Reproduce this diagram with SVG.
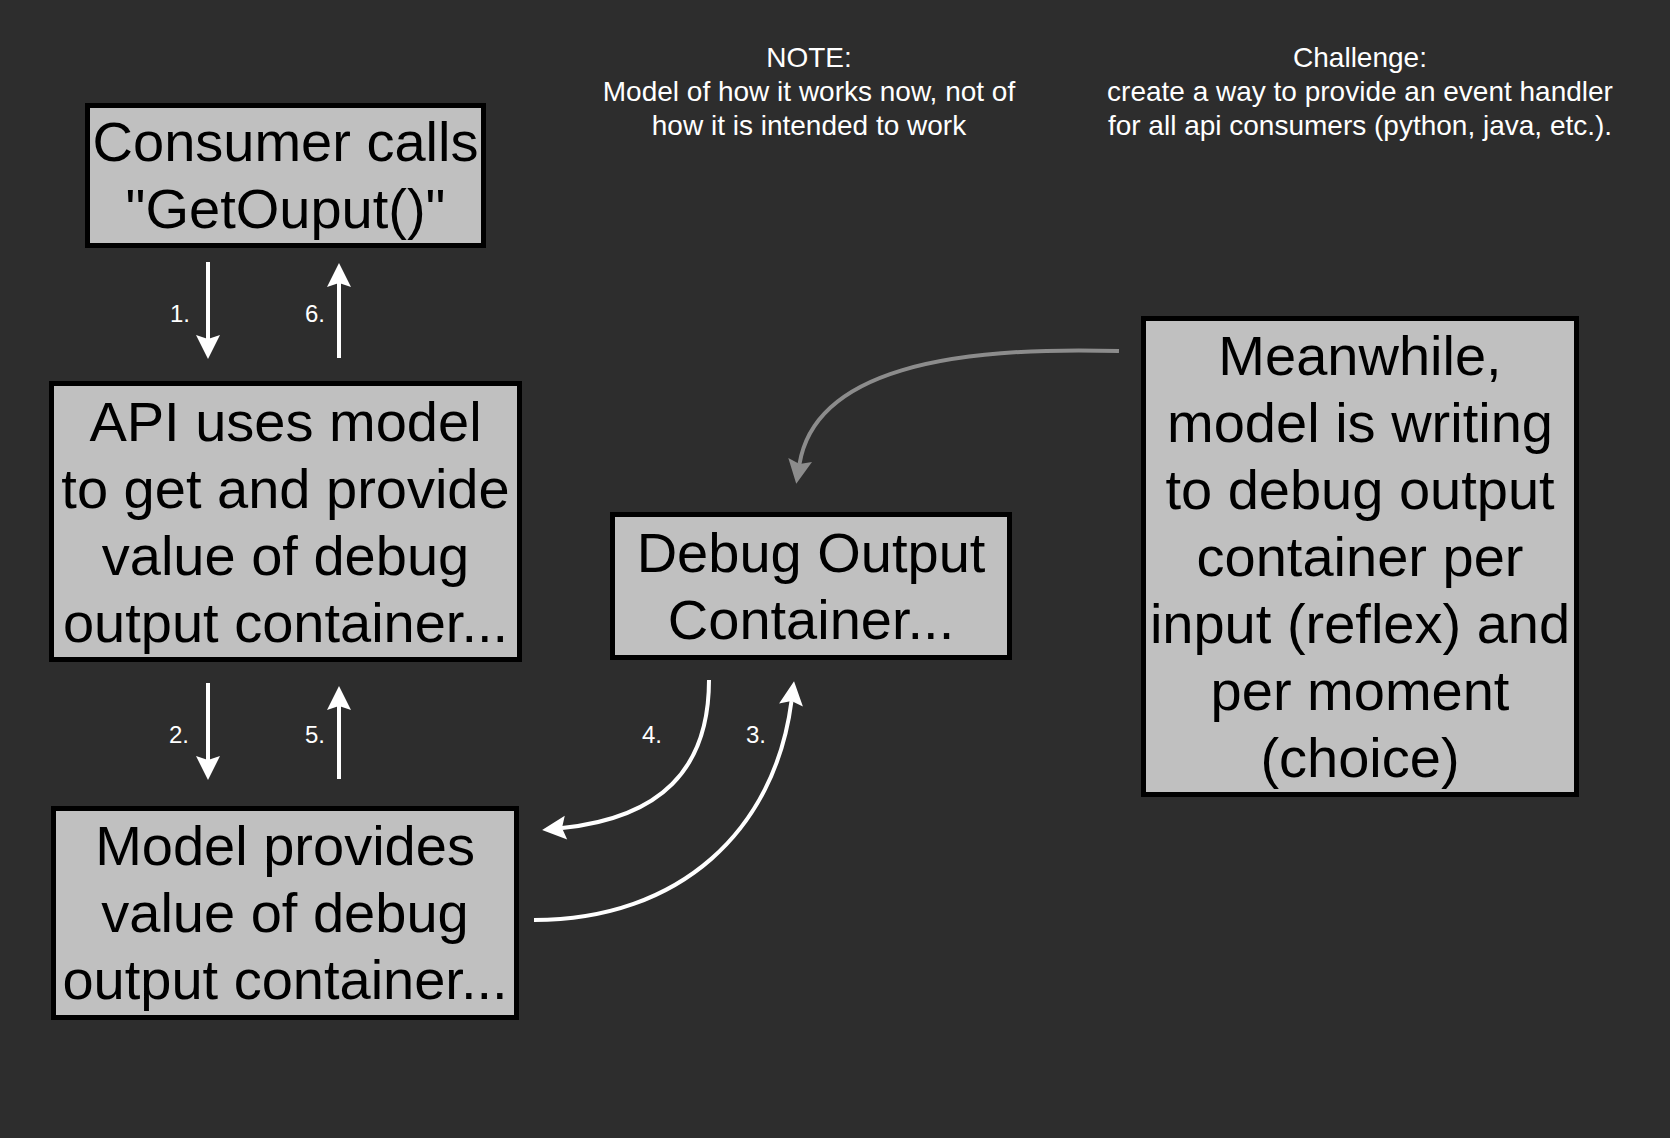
<svg xmlns="http://www.w3.org/2000/svg" width="1670" height="1138" viewBox="0 0 1670 1138">
<style>
.box{fill:#c0c0c0;stroke:#000;stroke-width:5}
.big{font-family:"Liberation Sans",Arial,Helvetica,sans-serif;font-size:56px;fill:#000;text-anchor:middle}
.note{font-family:"Liberation Sans",Arial,Helvetica,sans-serif;font-size:28px;fill:#fff;text-anchor:middle}
.num{font-family:"Liberation Sans",Arial,Helvetica,sans-serif;font-size:24px;fill:#fff}
.w{fill:none;stroke:#fff;stroke-width:4}
.g{fill:none;stroke:#8c8c8c;stroke-width:4}
</style>
<defs>
<marker id="aw" markerUnits="userSpaceOnUse" markerWidth="26" markerHeight="26" refX="4" refY="12" orient="auto" overflow="visible">
<path d="M0,0 L24,12 L0,24 L4,12 Z" fill="#fff"/>
</marker>
<marker id="ag" markerUnits="userSpaceOnUse" markerWidth="26" markerHeight="26" refX="4" refY="12" orient="auto" overflow="visible">
<path d="M0,0 L24,12 L0,24 L4,12 Z" fill="#8c8c8c"/>
</marker>
</defs>
<rect x="0" y="0" width="1670" height="1138" fill="#2d2d2d"/>

<g id="note">
<text class="note" x="809" y="67">NOTE:</text>
<text class="note" x="809" y="101">Model of how it works now, not of</text>
<text class="note" x="809" y="135">how it is intended to work</text>
</g>
<g id="challenge">
<text class="note" x="1360" y="67">Challenge:</text>
<text class="note" x="1360" y="101">create a way to provide an event handler</text>
<text class="note" x="1360" y="135">for all api consumers (python, java, etc.).</text>
</g>

<g id="connectors">
<path class="w" d="M208,262 L208,339" marker-end="url(#aw)"/>
<path class="w" d="M339,358 L339,283" marker-end="url(#aw)"/>
<path class="w" d="M208,683 L208,760" marker-end="url(#aw)"/>
<path class="w" d="M339,779 L339,706" marker-end="url(#aw)"/>
<path class="w" d="M709,680 C709,770 660,818 562,828" marker-end="url(#aw)"/>
<path class="w" d="M534,920 C680,920 775,830 791.5,701" marker-end="url(#aw)"/>
<path class="g" d="M1119,351 C950,346 815,370 799.5,464" marker-end="url(#ag)"/>
<text class="num" x="170" y="322">1.</text>
<text class="num" x="305" y="322">6.</text>
<text class="num" x="169" y="743">2.</text>
<text class="num" x="305" y="743">5.</text>
<text class="num" x="642" y="743">4.</text>
<text class="num" x="746" y="743">3.</text>
</g>

<g id="consumer">
<rect class="box" x="87.5" y="105.5" width="396" height="140"/>
<text class="big" x="285.5" y="161">Consumer calls</text>
<text class="big" x="285.5" y="228">"GetOuput()"</text>
</g>

<g id="api">
<rect class="box" x="51.5" y="383.5" width="468" height="276"/>
<text class="big" x="285.5" y="441">API uses model</text>
<text class="big" x="285.5" y="508">to get and provide</text>
<text class="big" x="285.5" y="575">value of debug</text>
<text class="big" x="285.5" y="642">output container...</text>
</g>

<g id="model">
<rect class="box" x="53.5" y="808.5" width="463" height="209"/>
<text class="big" x="285" y="865">Model provides</text>
<text class="big" x="285" y="932">value of debug</text>
<text class="big" x="285" y="999">output container...</text>
</g>

<g id="debug">
<rect class="box" x="612.5" y="514.5" width="397" height="143"/>
<text class="big" x="811" y="572">Debug Output</text>
<text class="big" x="811" y="639">Container...</text>
</g>

<g id="meanwhile">
<rect class="box" x="1143.5" y="318.5" width="433" height="476"/>
<text class="big" x="1360" y="375">Meanwhile,</text>
<text class="big" x="1360" y="442">model is writing</text>
<text class="big" x="1360" y="509">to debug output</text>
<text class="big" x="1360" y="576">container per</text>
<text class="big" x="1360" y="643">input (reflex) and</text>
<text class="big" x="1360" y="710">per moment</text>
<text class="big" x="1360" y="777">(choice)</text>
</g>
</svg>
